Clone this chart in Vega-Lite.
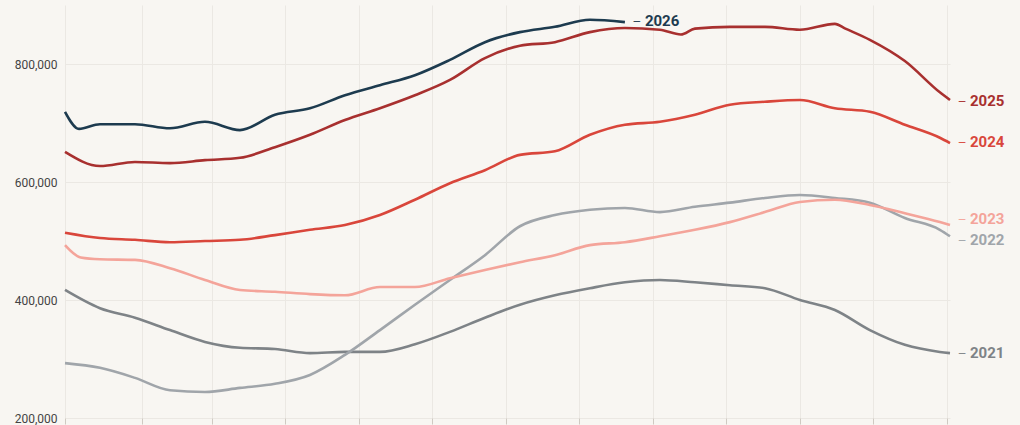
{
  "$schema": "https://vega.github.io/schema/vega-lite/v6.json",
  "width": 885,
  "height": 413,
  "autosize": {"type": "none"},
  "padding": {"left": 65, "top": 5, "right": 70, "bottom": 7},
  "background": "#f8f6f2",
  "datasets": {
    "lines": [
      {"year": "2021", "p": 0, "v": 417}, {"year": "2021", "p": 1, "v": 386}, {"year": "2021", "p": 2, "v": 370}, {"year": "2021", "p": 3, "v": 349}, {"year": "2021", "p": 4, "v": 329}, {"year": "2021", "p": 5, "v": 319}, {"year": "2021", "p": 6, "v": 317}, {"year": "2021", "p": 7, "v": 310}, {"year": "2021", "p": 8, "v": 312}, {"year": "2021", "p": 9, "v": 312}, {"year": "2021", "p": 10, "v": 325}, {"year": "2021", "p": 11, "v": 346}, {"year": "2021", "p": 12, "v": 370}, {"year": "2021", "p": 13, "v": 392}, {"year": "2021", "p": 14, "v": 408}, {"year": "2021", "p": 15, "v": 420}, {"year": "2021", "p": 16, "v": 430}, {"year": "2021", "p": 17, "v": 434}, {"year": "2021", "p": 18, "v": 430}, {"year": "2021", "p": 19, "v": 425}, {"year": "2021", "p": 20, "v": 420}, {"year": "2021", "p": 21, "v": 400}, {"year": "2021", "p": 22, "v": 383}, {"year": "2021", "p": 23, "v": 349}, {"year": "2021", "p": 24, "v": 324}, {"year": "2021", "p": 25, "v": 312}, {"year": "2021", "p": 25.29, "v": 310},
      {"year": "2022", "p": 0, "v": 293}, {"year": "2022", "p": 1, "v": 285}, {"year": "2022", "p": 2, "v": 268}, {"year": "2022", "p": 3, "v": 247}, {"year": "2022", "p": 4, "v": 244}, {"year": "2022", "p": 5, "v": 251}, {"year": "2022", "p": 6, "v": 258}, {"year": "2022", "p": 7, "v": 273}, {"year": "2022", "p": 8, "v": 307}, {"year": "2022", "p": 9, "v": 349}, {"year": "2022", "p": 10, "v": 392}, {"year": "2022", "p": 11, "v": 434}, {"year": "2022", "p": 12, "v": 476}, {"year": "2022", "p": 13, "v": 525}, {"year": "2022", "p": 14, "v": 544}, {"year": "2022", "p": 15, "v": 553}, {"year": "2022", "p": 16, "v": 556}, {"year": "2022", "p": 17, "v": 549}, {"year": "2022", "p": 18, "v": 558}, {"year": "2022", "p": 19, "v": 565}, {"year": "2022", "p": 20, "v": 573}, {"year": "2022", "p": 21, "v": 578}, {"year": "2022", "p": 22, "v": 573}, {"year": "2022", "p": 23, "v": 565}, {"year": "2022", "p": 24, "v": 539}, {"year": "2022", "p": 25, "v": 519}, {"year": "2022", "p": 25.29, "v": 508},
      {"year": "2023", "p": 0, "v": 493}, {"year": "2023", "p": 0.45, "v": 472}, {"year": "2023", "p": 1, "v": 469}, {"year": "2023", "p": 2, "v": 468}, {"year": "2023", "p": 3, "v": 454}, {"year": "2023", "p": 4, "v": 434}, {"year": "2023", "p": 5, "v": 417}, {"year": "2023", "p": 6, "v": 414}, {"year": "2023", "p": 7, "v": 410}, {"year": "2023", "p": 8, "v": 408}, {"year": "2023", "p": 9, "v": 422}, {"year": "2023", "p": 10, "v": 422}, {"year": "2023", "p": 11, "v": 437}, {"year": "2023", "p": 12, "v": 451}, {"year": "2023", "p": 13, "v": 464}, {"year": "2023", "p": 14, "v": 476}, {"year": "2023", "p": 15, "v": 493}, {"year": "2023", "p": 16, "v": 498}, {"year": "2023", "p": 17, "v": 508}, {"year": "2023", "p": 18, "v": 519}, {"year": "2023", "p": 19, "v": 532}, {"year": "2023", "p": 20, "v": 549}, {"year": "2023", "p": 21, "v": 566}, {"year": "2023", "p": 22, "v": 570}, {"year": "2023", "p": 23, "v": 561}, {"year": "2023", "p": 24, "v": 547}, {"year": "2023", "p": 25, "v": 532}, {"year": "2023", "p": 25.29, "v": 527},
      {"year": "2024", "p": 0, "v": 514}, {"year": "2024", "p": 1, "v": 505}, {"year": "2024", "p": 2, "v": 502}, {"year": "2024", "p": 3, "v": 498}, {"year": "2024", "p": 4, "v": 500}, {"year": "2024", "p": 5, "v": 502}, {"year": "2024", "p": 6, "v": 510}, {"year": "2024", "p": 7, "v": 519}, {"year": "2024", "p": 8, "v": 527}, {"year": "2024", "p": 9, "v": 544}, {"year": "2024", "p": 10, "v": 570}, {"year": "2024", "p": 11, "v": 598}, {"year": "2024", "p": 12, "v": 620}, {"year": "2024", "p": 13, "v": 646}, {"year": "2024", "p": 14, "v": 652}, {"year": "2024", "p": 15, "v": 680}, {"year": "2024", "p": 16, "v": 697}, {"year": "2024", "p": 17, "v": 702}, {"year": "2024", "p": 18, "v": 714}, {"year": "2024", "p": 19, "v": 731}, {"year": "2024", "p": 20, "v": 736}, {"year": "2024", "p": 21, "v": 739}, {"year": "2024", "p": 22, "v": 725}, {"year": "2024", "p": 23, "v": 719}, {"year": "2024", "p": 24, "v": 697}, {"year": "2024", "p": 25, "v": 675}, {"year": "2024", "p": 25.29, "v": 666},
      {"year": "2025", "p": 0, "v": 651}, {"year": "2025", "p": 1, "v": 627}, {"year": "2025", "p": 2, "v": 634}, {"year": "2025", "p": 3, "v": 632}, {"year": "2025", "p": 4, "v": 637}, {"year": "2025", "p": 5, "v": 641}, {"year": "2025", "p": 6, "v": 659}, {"year": "2025", "p": 7, "v": 680}, {"year": "2025", "p": 8, "v": 705}, {"year": "2025", "p": 9, "v": 725}, {"year": "2025", "p": 10, "v": 747}, {"year": "2025", "p": 11, "v": 773}, {"year": "2025", "p": 12, "v": 810}, {"year": "2025", "p": 13, "v": 831}, {"year": "2025", "p": 14, "v": 837}, {"year": "2025", "p": 15, "v": 854}, {"year": "2025", "p": 16, "v": 861}, {"year": "2025", "p": 17, "v": 858}, {"year": "2025", "p": 17.6, "v": 850}, {"year": "2025", "p": 18, "v": 860}, {"year": "2025", "p": 19, "v": 863}, {"year": "2025", "p": 20, "v": 863}, {"year": "2025", "p": 21, "v": 858}, {"year": "2025", "p": 22, "v": 868}, {"year": "2025", "p": 22.3, "v": 860}, {"year": "2025", "p": 23, "v": 841}, {"year": "2025", "p": 24, "v": 805}, {"year": "2025", "p": 25, "v": 752}, {"year": "2025", "p": 25.29, "v": 739},
      {"year": "2026", "p": 0, "v": 719}, {"year": "2026", "p": 0.4, "v": 690}, {"year": "2026", "p": 1, "v": 698}, {"year": "2026", "p": 2, "v": 698}, {"year": "2026", "p": 3, "v": 691}, {"year": "2026", "p": 4, "v": 702}, {"year": "2026", "p": 5, "v": 688}, {"year": "2026", "p": 6, "v": 714}, {"year": "2026", "p": 7, "v": 725}, {"year": "2026", "p": 8, "v": 747}, {"year": "2026", "p": 9, "v": 764}, {"year": "2026", "p": 10, "v": 781}, {"year": "2026", "p": 11, "v": 807}, {"year": "2026", "p": 12, "v": 837}, {"year": "2026", "p": 13, "v": 854}, {"year": "2026", "p": 14, "v": 863}, {"year": "2026", "p": 15, "v": 875}, {"year": "2026", "p": 16, "v": 871}
    ],
    "labels": [
      {"year": "2021", "p": 25.29, "v": 310},
      {"year": "2022", "p": 25.29, "v": 502},
      {"year": "2023", "p": 25.29, "v": 537},
      {"year": "2024", "p": 25.29, "v": 668},
      {"year": "2025", "p": 25.29, "v": 737},
      {"year": "2026", "p": 16, "v": 873}
    ]
  },
  "encoding": {
    "x": {"field": "p", "type": "quantitative", "scale": {"domain": [0, 25.29], "nice": false, "zero": false},
      "axis": {"title": null, "labels": false, "domain": false, "values": [0, 2.2, 4.2, 6.3, 8.4, 10.5, 12.6, 14.7, 16.8, 18.9, 21, 23.1, 25.2], "grid": true, "gridColor": "#ebe8e3", "tickColor": "#cfcac2", "tickSize": 6}},
    "y": {"field": "v", "type": "quantitative", "scale": {"domain": [200, 900], "nice": false, "zero": false},
      "axis": {"title": null, "values": [200, 400, 600, 800], "labelExpr": "format(datum.value * 1000, ',')", "domain": false, "ticks": false, "gridColor": "#ebe8e3", "labelFont": "Roboto", "labelFontSize": 12, "labelColor": "#444", "labelPadding": 8}},
    "color": {"field": "year", "type": "nominal", "legend": null,
      "scale": {"domain": ["2021", "2022", "2023", "2024", "2025", "2026"], "range": ["#7e8387", "#a0a5aa", "#f4a49a", "#d9463b", "#a8302f", "#1d3b4f"]}}
  },
  "layer": [
    {"data": {"name": "lines"}, "mark": {"type": "line", "interpolate": "monotone", "strokeWidth": 2.6}, "encoding": {"detail": {"field": "year"}}},
    {"data": {"name": "labels"}, "mark": {"type": "text", "text": "–", "dx": 12, "align": "center", "color": "#aaa", "fontSize": 12}},
    {"data": {"name": "labels"}, "mark": {"type": "text", "dx": 20, "align": "left", "font": "Roboto", "fontWeight": "bold", "fontSize": 15}, "encoding": {"text": {"field": "year"}}}
  ],
  "config": {"view": {"stroke": null}}
}
